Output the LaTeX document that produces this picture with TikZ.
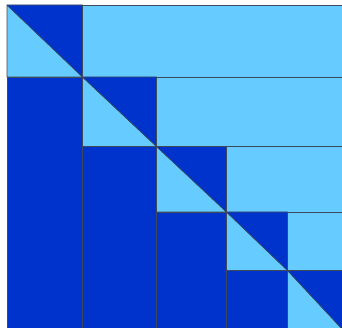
\documentclass[tikz,border=0pt]{standalone}
\definecolor{lb}{HTML}{66CCFF}
\definecolor{db}{HTML}{0033CC}
\definecolor{edgecol}{HTML}{3C4A5C}
\begin{document}
\begin{tikzpicture}[x=1pt,y=-1pt,
  lightpart/.style={fill=lb,draw=edgecol,line width=0.6pt,line join=round},
  darkpart/.style={fill=db,draw=edgecol,line width=0.6pt,line join=round}]
\useasboundingbox (0,0) rectangle (342,328);
\fill[white] (0,0) rectangle (342,328);
\clip (0,0) rectangle (342,328);
\foreach \xa/\ya/\xb/\yb in {7/5/82.5/77, 82.5/77/156.5/146.5, 156.5/146.5/226.5/212, 226.5/212/287.5/270.5, 287.5/270.5/343/330} {
  \draw[lightpart] (\xb,\ya) rectangle (346,\yb);
  \draw[darkpart] (\xa,\yb) rectangle (\xb,332);
  \draw[lightpart] (\xa,\ya) -- (\xa,\yb) -- (\xb,\yb) -- cycle;
  \draw[darkpart] (\xa,\ya) -- (\xb,\ya) -- (\xb,\yb) -- cycle;
}
\end{tikzpicture}
\end{document}
